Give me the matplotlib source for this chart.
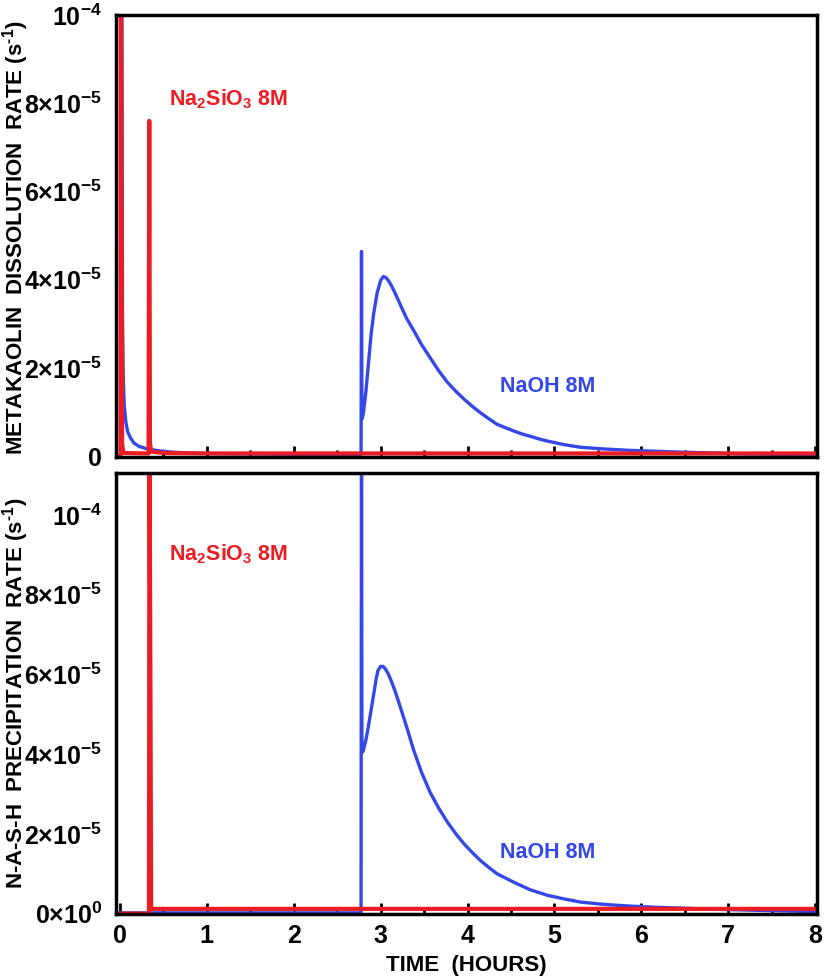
import matplotlib
matplotlib.use("Agg")
import matplotlib.pyplot as plt

plt.rcParams['font.family'] = ['Liberation Sans', 'DejaVu Sans']
plt.rcParams['font.weight'] = 'bold'
plt.rcParams['mathtext.fontset'] = 'custom'
plt.rcParams['mathtext.rm'] = 'Liberation Sans:bold'
plt.rcParams['mathtext.it'] = 'Liberation Sans:bold'
plt.rcParams['mathtext.bf'] = 'Liberation Sans:bold'

# values in units of 1e-5 s^-1, time in hours
# top panel: metakaolin dissolution rate
diss_naoh_t = [0.0, 0.02, 0.03, 0.04, 0.05, 0.07, 0.09, 0.12, 0.16, 0.22, 0.32, 0.45, 0.6, 0.8,
               1.0, 1.5, 2.0, 2.5, 2.775, 2.78, 2.785, 2.80, 2.83, 2.86, 2.89, 2.92, 2.96, 3.0,
               3.03, 3.06, 3.09, 3.12, 3.16, 3.2, 3.25, 3.3, 3.38, 3.47, 3.57, 3.67, 3.77, 3.87,
               3.96, 4.06, 4.15, 4.25, 4.34, 4.44, 4.53, 4.63, 4.72, 4.82, 4.92, 5.11, 5.3,
               5.58, 5.87, 6.16, 6.45, 6.83, 7.21, 7.6, 8.0]
diss_naoh_r = [20, 12, 3.2, 1.7, 1.15, 0.75, 0.55, 0.42, 0.3, 0.22, 0.16, 0.12, 0.09, 0.07,
               0.06, 0.05, 0.04, 0.04, 0.04, 4.64, 0.84, 0.95, 1.45, 2.1, 2.75, 3.23, 3.7, 3.98,
               4.07, 4.05, 3.98, 3.88, 3.72, 3.55, 3.33, 3.12, 2.85, 2.53, 2.23, 1.93, 1.67, 1.46,
               1.29, 1.12, 0.98, 0.84, 0.72, 0.64, 0.57, 0.5, 0.45, 0.39, 0.34, 0.26, 0.20,
               0.16, 0.13, 0.11, 0.09, 0.07, 0.05, 0.04, 0.03]
diss_nas_t = [0.0, 0.008, 0.012, 0.025, 0.04, 0.33, 0.338, 0.346, 0.36, 0.5, 1.0, 8.0]
diss_nas_r = [0.0, 0.0, 15, 0.3, 0.07, 0.06, 7.6, 0.3, 0.1, 0.07, 0.06, 0.06]

# bottom panel: N-A-S-H precipitation rate
prec_naoh_t = [0.0, 2.775, 2.78, 2.785, 2.80, 2.83, 2.86, 2.89, 2.92, 2.95, 2.97, 3.0, 3.03,
               3.06, 3.09, 3.12, 3.16, 3.2, 3.25, 3.3, 3.38, 3.47, 3.57, 3.67, 3.77, 3.87,
               3.96, 4.06, 4.15, 4.25, 4.34, 4.44, 4.53, 4.63, 4.72, 4.82, 4.92, 5.11, 5.3,
               5.58, 5.87, 6.16, 6.45, 6.83, 7.21, 7.6, 8.0]
prec_naoh_r = [0.02, 0.02, 13, 4.04, 4.08, 4.35, 4.7, 5.1, 5.5, 5.9, 6.1, 6.2, 6.2,
               6.12, 6.0, 5.85, 5.62, 5.36, 5.02, 4.68, 4.1, 3.55, 3.04, 2.64, 2.29, 1.99,
               1.75, 1.52, 1.33, 1.15, 1.0, 0.89, 0.79, 0.69, 0.6, 0.53, 0.46, 0.37, 0.29,
               0.23, 0.19, 0.16, 0.14, 0.11, 0.09, 0.07, 0.05]
prec_nas_t = [0.0, 0.335, 0.34, 0.36, 8.0]
prec_nas_r = [0.0, 0.0, 13, 0.12, 0.12]

x_ticks = [0, 1, 2, 3, 4, 5, 6, 7, 8]
top_ticks = [0, 2, 4, 6, 8, 10]
top_labels = ['0', r'$2{\times}10^{-5}$', r'$4{\times}10^{-5}$', r'$6{\times}10^{-5}$',
              r'$8{\times}10^{-5}$', r'$10^{-4}$']
bot_ticks = [0, 2, 4, 6, 8, 10]
bot_labels = [r'$0{\times}10^{0}$', r'$2{\times}10^{-5}$', r'$4{\times}10^{-5}$',
              r'$6{\times}10^{-5}$', r'$8{\times}10^{-5}$', r'$10^{-4}$']

red = '#ec1c24'
blue = '#3547e6'

fig = plt.figure(figsize=(8.26, 9.8), dpi=100)
ax1 = fig.add_axes([0.1404, 0.5337, 0.8486, 0.4510])
ax2 = fig.add_axes([0.1404, 0.0673, 0.8486, 0.4500])

ax1.plot(diss_naoh_t, diss_naoh_r, color=blue, lw=2.4)
ax1.plot(diss_nas_t, diss_nas_r, color=red, lw=3)
ax2.plot(prec_naoh_t, prec_naoh_r, color=blue, lw=2.4)
ax2.plot(prec_nas_t, prec_nas_r, color=red, lw=3)

ax1.set_ylim(-0.02, 10)
ax2.set_ylim(-0.01, 11.05)
ax1.set_yticks(top_ticks)
ax1.set_yticklabels(top_labels)
ax2.set_yticks(bot_ticks)
ax2.set_yticklabels(bot_labels)

for ax in (ax1, ax2):
    ax.set_xlim(-0.045, 8.02)
    ax.set_xticks(x_ticks)
    ax.set_xticks([0.5, 1.5, 2.5, 3.5, 4.5, 5.5, 6.5, 7.5], minor=True)
    ax.tick_params(axis='x', which='major', direction='in', length=8, width=2, top=False)
    ax.tick_params(axis='x', which='minor', direction='in', length=5, width=2, top=False)
    ax.tick_params(axis='y', length=0, labelsize=18, pad=10)
    ax.tick_params(axis='x', labelsize=18, pad=7)
    for s in ax.spines.values():
        s.set_linewidth(2.5)

ax1.set_xticklabels([])

ax1.set_ylabel(r'METAKAOLIN  DISSOLUTION  RATE (s$^{\text{-}1}$)', fontsize=16, fontweight='bold')
ax2.set_ylabel(r'N-A-S-H  PRECIPITATION  RATE (s$^{\text{-}1}$)', fontsize=16, fontweight='bold')
ax1.yaxis.set_label_coords(-0.121, 0.495)
ax2.yaxis.set_label_coords(-0.121, 0.50)
ax2.set_xlabel('TIME  (HOURS)', fontsize=16, fontweight='bold', labelpad=5)

ax1.text(0.56, 7.95, r'Na$_2$SiO$_3$ 8M', color=red, fontsize=15.5, fontweight='bold')
ax1.text(4.37, 1.45, 'NaOH 8M', color=blue, fontsize=15.5, fontweight='bold')
ax2.text(0.56, 8.85, r'Na$_2$SiO$_3$ 8M', color=red, fontsize=15.5, fontweight='bold')
ax2.text(4.37, 1.4, 'NaOH 8M', color=blue, fontsize=15.5, fontweight='bold')

plt.savefig('out.png', dpi=100)
